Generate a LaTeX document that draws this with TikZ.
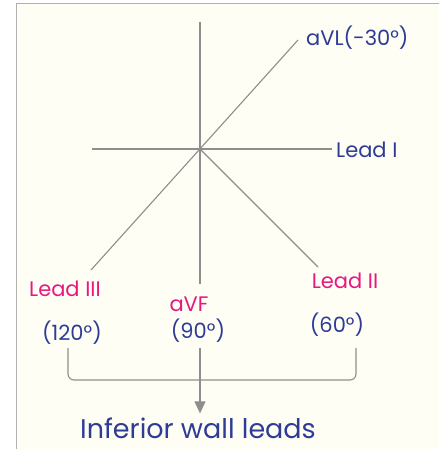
\documentclass[tikz,border=0pt]{standalone}
\usepackage{fontspec}
\setmainfont{Poppins}
\usepackage{tikz}
\usetikzlibrary{positioning,arrows.meta,calc}
\definecolor{penBlue}{HTML}{2E3C96}
\definecolor{hotPink}{HTML}{E8187F}
\definecolor{axGray}{HTML}{8E8E8E}
\definecolor{paper}{HTML}{FEFEF4}
\newcommand{\lbfont}{\fontsize{21}{25}\selectfont}
\newcommand{\ttlfont}{\fontsize{27}{31}\selectfont}

\begin{document}
\begin{tikzpicture}[x=1pt,y=1pt,
    axline/.style={draw=axGray,line width=1.1pt},
    blab/.style={text=penBlue,inner sep=0pt,font=\lbfont},
    plab/.style={text=hotPink,inner sep=0pt,font=\lbfont},
    flow/.style={-{Triangle[length=12pt,width=11pt]},draw=axGray,line width=1.1pt}]

\useasboundingbox (0,0) rectangle (439,-449);

% ======================= paper and frame ==============================================
\fill[white] (0,0) rectangle (439,-449);
\fill[paper] (16.5,-4) rectangle (439,-449);
\draw[draw=axGray!70,line width=1pt] (16.5,-449) -- (16.5,-4) -- (439,-4);

% ======================= axes =========================================================
\coordinate (O)   at (200,-149);
\coordinate (up)  at (200,-22);
\coordinate (dn)  at (200,-284);
\coordinate (lt)  at (92,-149);
\coordinate (rt)  at (332,-149);
\coordinate (avl) at (298,-40);
\coordinate (l3)  at (91,-270);
\coordinate (l2)  at (318,-267);
\draw[axline] (up)  -- (dn);
\draw[axline] (lt)  -- (rt);
\draw[axline] (avl) -- (l3);
\draw[axline] (O)   -- (l2);

% ======================= lead labels ==================================================
\node[blab,anchor=west] (avlLab) at (306,-38)  {aVL(-30°)};
\node[blab,anchor=west] (lead1)  at (336,-150) {Lead I};
\node[plab] (lead3) at (65,-289)  {Lead III};
\node[plab] (avf)   at (189,-304) {aVF};
\node[plab] (lead2) at (345,-281) {Lead II};
\node[blab] (d120)  at (72,-333)  {(120°)};
\node[blab] (d90)   at (198,-331) {(90°)};
\node[blab] (d60)   at (337,-325) {(60°)};

% ======================= grouping bracket =============================================
\node[text=penBlue,inner sep=0pt,font=\ttlfont] (inf) at (198,-428) {Inferior wall leads};
\coordinate (bl) at (68,-348);
\coordinate (br) at (356,-348);
\coordinate (bm) at (200,-348);
\draw[axline,rounded corners=6pt] (bl) -- ++(0,-32) -| (br);
\draw[flow,shorten >=4pt] (bm) -- (bm |- inf.north);

\end{tikzpicture}
\end{document}
